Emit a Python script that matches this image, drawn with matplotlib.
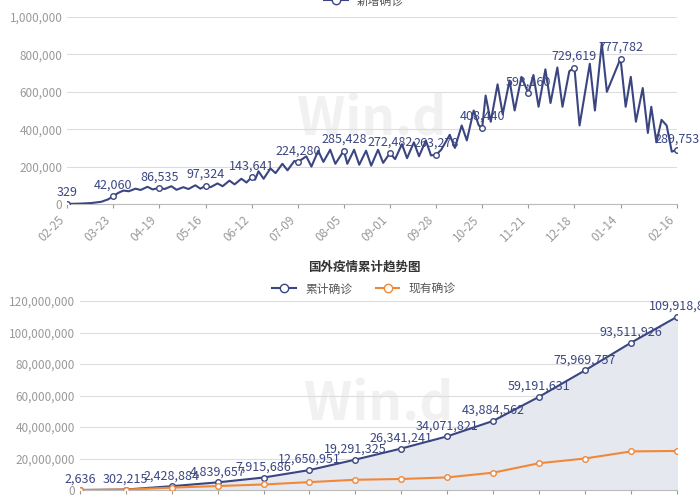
import matplotlib
matplotlib.use("Agg")
import matplotlib.pyplot as plt
from matplotlib.lines import Line2D

plt.rcParams["font.family"] = "sans-serif"
plt.rcParams["font.sans-serif"] = ["Noto Sans CJK SC", "Noto Sans CJK JP", "Noto Sans CJK TC",
                                   "Noto Sans CJK KR", "DejaVu Sans"]

tick_days = [0, 27, 54, 81, 108, 135, 162, 189, 216, 243, 270, 297, 324, 357]
tick_labels = ["02-25", "03-23", "04-19", "05-16", "06-12", "07-09", "08-05", "09-01",
               "09-28", "10-25", "11-21", "12-18", "01-14", "02-16"]

# Daily new cases (peaks/troughs)
new_days = [0, 7, 14, 20, 24, 27, 30, 33, 36, 40, 43, 47, 50, 54, 57, 61, 64, 68, 71, 75, 78, 81,
            84, 88, 91, 95, 98, 102, 105, 108, 110, 112, 115, 119, 122, 126, 129, 133, 135, 140,
            143, 147, 150, 154, 157, 162, 164, 168, 171, 175, 178, 182, 185, 189, 192, 196, 199,
            203, 206, 210, 213, 216, 219, 224, 227, 231, 234, 238, 241, 243, 245, 248, 252, 255,
            259, 262, 266, 270, 273, 276, 280, 283, 287, 290, 294, 297, 300, 306, 309, 313, 316,
            324, 327, 330, 333, 337, 340, 342, 345, 348, 351, 354, 357]
new_vals = [329, 2000, 5000, 12000, 25000, 42060, 60000, 72000, 68000, 82000, 75000, 92000, 78000,
            86535, 80000, 95000, 76000, 90000, 80000, 100000, 82000, 97324, 90000, 110000, 95000,
            125000, 105000, 135000, 115000, 143641, 130000, 175000, 135000, 190000, 165000, 215000,
            180000, 230000, 224280, 255000, 200000, 285000, 225000, 290000, 215000, 285428, 215000,
            290000, 210000, 285000, 205000, 290000, 220000, 272482, 240000, 320000, 245000, 330000,
            255000, 340000, 260000, 263278, 290000, 370000, 300000, 420000, 340000, 500000, 420000,
            408440, 580000, 440000, 640000, 480000, 660000, 500000, 680000, 593160, 690000, 520000,
            720000, 540000, 730000, 520000, 710000, 729619, 420000, 750000, 500000, 860000, 600000,
            777782, 520000, 680000, 440000, 620000, 380000, 520000, 330000, 450000, 420000, 280000,
            289753]
new_label_vals = ["329", "42,060", "86,535", "97,324", "143,641", "224,280", "285,428", "272,482",
                  "263,278", "408,440", "593,160", "729,619", "777,782", "289,753"]

# Cumulative foreign cases
cum_vals = [2636, 302215, 2428884, 4839657, 7915686, 12650951, 19291325, 26341241, 34071821,
            43884562, 59191631, 75969757, 93511926, 109918800]
cum_labels = ["2,636", "302,215", "2,428,884", "4,839,657", "7,915,686", "12,650,951",
              "19,291,325", "26,341,241", "34,071,821", "43,884,562", "59,191,631",
              "75,969,757", "93,511,926", "109,918,8"]
cur_vals = [2000, 250000, 1500000, 2500000, 3500000, 5000000, 6500000, 7000000, 8000000,
            11000000, 17000000, 20000000, 24500000, 24800000]

navy = "#3b4681"
orange = "#f0883a"
gray = "#9a9a9a"

fig = plt.figure(figsize=(7, 5), dpi=100)

def style(ax):
    for s in ["top", "right", "left"]:
        ax.spines[s].set_visible(False)
    ax.spines["bottom"].set_color("#bbbbbb")
    ax.tick_params(axis="y", length=0, colors=gray, labelsize=8.5)
    ax.tick_params(axis="x", colors=gray, labelsize=8.5, length=3)
    ax.grid(axis="y", color="#dddddd", lw=0.8)
    ax.set_axisbelow(True)
    ax.text(0.5, 0.45, "Win.d", transform=ax.transAxes, fontsize=38, color="#f1f1f1",
            ha="center", va="center", zorder=0, fontweight="bold")

# top
ax1 = fig.add_axes([0.096, 0.592, 0.871, 0.374])
style(ax1)
ax1.plot(new_days, new_vals, color=navy, lw=1.5, zorder=3)
for d, lab in zip(tick_days, new_label_vals):
    v = new_vals[new_days.index(d)]
    ax1.plot(d, v, "o", ms=4, mfc="white", mec=navy, mew=1, zorder=4)
    ax1.text(d, v + 25000, lab, color=navy, fontsize=9, ha="center", va="bottom", zorder=5)
ax1.set_xlim(0, 357)
ax1.set_ylim(0, 1000000)
ax1.set_yticks(range(0, 1000001, 200000))
ax1.set_yticklabels([f"{v:,}" for v in range(0, 1000001, 200000)])
ax1.set_xticks(tick_days)
ax1.set_xticklabels(tick_labels, rotation=45, ha="right")

h1 = Line2D([], [], color=navy, marker="o", mfc="white", ms=6, lw=1.5)
fig.legend([h1], ["新增确诊"], loc="center", bbox_to_anchor=(0.52, 0.998), frameon=False,
           fontsize=8.5, labelcolor="#555555", handlelength=2)

# bottom
ax2 = fig.add_axes([0.114, 0.02, 0.853, 0.378])
style(ax2)
idx = list(range(len(cum_vals)))
ax2.fill_between(idx, cum_vals, color="#e6e8ef", zorder=1)
ax2.plot(idx, cum_vals, color=navy, lw=1.5, marker="o", ms=4, mfc="white", mec=navy, zorder=3)
ax2.plot(idx, cur_vals, color=orange, lw=1.5, marker="o", ms=4, mfc="white", mec=orange, zorder=3)
for i, (v, lab) in enumerate(zip(cum_vals, cum_labels)):
    ax2.text(i, v + 2500000, lab, color=navy, fontsize=9, ha="center", va="bottom", zorder=5)
ax2.set_xlim(0, len(cum_vals) - 1)
ax2.set_ylim(0, 120000000)
ax2.set_yticks(range(0, 120000001, 20000000))
ax2.set_yticklabels([f"{v:,}" for v in range(0, 120000001, 20000000)])
ax2.set_xticks(idx)
ax2.set_xticklabels(tick_labels, rotation=45, ha="right")

fig.text(0.52, 0.465, "国外疫情累计趋势图", ha="center", va="center", fontsize=9,
         fontweight="bold", color="#333333")
h2 = Line2D([], [], color=navy, marker="o", mfc="white", ms=6, lw=1.5)
h3 = Line2D([], [], color=orange, marker="o", mfc="white", ms=6, lw=1.5)
fig.legend([h2, h3], ["累计确诊", "现有确诊"], loc="center", bbox_to_anchor=(0.52, 0.422),
           ncol=2, frameon=False, fontsize=8.5, labelcolor="#555555", handlelength=2)

fig.savefig("out.png", dpi=100, facecolor="white")
